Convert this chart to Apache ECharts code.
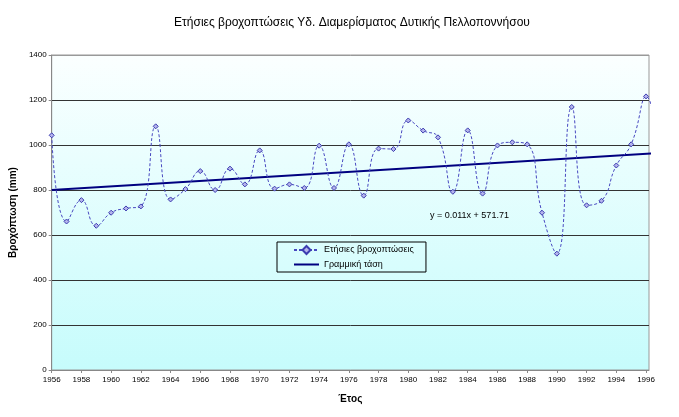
<!DOCTYPE html>
<html>
<head>
<meta charset="utf-8">
<script src="https://cdn.jsdelivr.net/npm/echarts@6/dist/echarts.min.js"></script>
<style>
  html, body { margin: 0; padding: 0; background: #fff; }
  #chart { width: 679px; height: 417px; }
</style>
</head>
<body>
<div id="chart"></div>
<script>
// Έτη και ετήσιες βροχοπτώσεις (mm), όπως διαβάζονται από το διάγραμμα
const years = [1956, 1957, 1958, 1959, 1960, 1961, 1962, 1963, 1964, 1965,
  1966, 1967, 1968, 1969, 1970, 1971, 1972, 1973, 1974, 1975,
  1976, 1977, 1978, 1979, 1980, 1981, 1982, 1983, 1984, 1985,
  1986, 1987, 1988, 1989, 1990, 1991, 1992, 1993, 1994, 1995,
  1996, 1997]
const rainfall = [1043, 660, 755, 641, 699, 718, 727, 1083, 758, 804,
  884, 800, 895, 825, 976, 806, 825, 809, 997, 809,
  1003, 775, 984, 982, 1109, 1064, 1034, 792, 1065, 784,
  998, 1012, 1003, 699, 517, 1169, 732, 752, 909, 1003,
  1216, 850]

// Γραμμική τάση: άκρα της ευθείας
const trendYears = [1956, 1997]
const trendValues = [800, 965]

const seriesNames = ['Ετήσιες βροχοπτώσεις', 'Γραμμική τάση']
const equationText = 'y = 0.011x + 571.71'

const font = '"Liberation Sans", Arial, sans-serif'

const chart = echarts.init(document.getElementById('chart'))

const option = {
  animation: false,
  textStyle: { fontFamily: font },
  title: {
    text: 'Ετήσιες βροχοπτώσεις Υδ. Διαμερίσματος Δυτικής Πελλοποννήσου',
    left: 347,
    textAlign: 'center',
    top: 12,
    textStyle: { fontFamily: font, fontSize: 12, fontWeight: 'normal', color: '#000' }
  },
  grid: {
    left: 51,
    right: 30,
    top: 55,
    bottom: 47,
    show: true,
    borderColor: '#999',
    borderWidth: 1,
    backgroundColor: {
      type: 'linear', x: 0, y: 0, x2: 0, y2: 1,
      colorStops: [
        { offset: 0, color: '#fbffff' },
        { offset: 1, color: '#c6fcfc' }
      ]
    }
  },
  legend: {
    orient: 'vertical',
    left: 277,
    top: 242,
    padding: [3, 12, 3, 16],
    itemGap: 5,
    itemWidth: 25,
    itemHeight: 10,
    borderColor: '#000',
    borderWidth: 1,
    textStyle: { fontFamily: font, fontSize: 9, color: '#000' },
    data: [
      { name: seriesNames[0] },
      { name: seriesNames[1], itemStyle: { opacity: 0 } }
    ]
  },
  xAxis: {
    type: 'value',
    min: 1956,
    max: 1996.2,
    interval: 2,
    name: 'Έτος',
    nameLocation: 'middle',
    nameGap: 24,
    nameTextStyle: { fontFamily: font, fontSize: 10, fontWeight: 'bold', color: '#000' },
    axisLine: { show: true, lineStyle: { color: '#888', width: 1 } },
    axisTick: { show: true, length: 3, lineStyle: { color: '#888' } },
    axisLabel: {
      fontSize: 8, color: '#000', margin: 6,
      showMaxLabel: false,
      formatter: v => (Math.abs(v - Math.round(v)) < 1e-6 ? String(Math.round(v)) : '')
    },
    splitLine: { show: false }
  },
  yAxis: {
    type: 'value',
    min: 0,
    max: 1400,
    interval: 200,
    name: 'Βροχόπτωση (mm)',
    nameLocation: 'middle',
    nameGap: 32,
    nameTextStyle: { fontFamily: font, fontSize: 10, fontWeight: 'bold', color: '#000' },
    axisLine: { show: true, lineStyle: { color: '#888', width: 1 } },
    axisTick: { show: true, length: 3, lineStyle: { color: '#888' } },
    axisLabel: { fontSize: 8, color: '#000', margin: 5, formatter: v => String(v) },
    splitLine: {
      show: true,
      lineStyle: {
        color: ['#888', '#333', '#333', '#333', '#333', '#333', '#333', '#999'],
        width: 1
      }
    }
  },
  series: [
    {
      name: seriesNames[0],
      type: 'line',
      data: years.map((y, i) => [y, rainfall[i]]),
      smooth: 0.5,
      clip: true,
      symbol: 'diamond',
      symbolSize: 5,
      lineStyle: { color: '#4848c0', width: 1, type: [3, 2] },
      itemStyle: { color: '#b4b4ec', borderColor: '#3c3cb0', borderWidth: 1 },
      z: 3
    },
    {
      name: seriesNames[1],
      type: 'line',
      data: trendYears.map((y, i) => [y, trendValues[i]]),
      clip: true,
      symbol: 'none',
      lineStyle: { color: '#000080', width: 2 },
      itemStyle: { color: '#000080' },
      z: 2
    }
  ],
  graphic: [
    {
      type: 'text',
      left: 430,
      top: 211,
      style: { text: equationText, fontFamily: font, fontSize: 9, fill: '#000' }
    }
  ]
}

chart.setOption(option)
</script>
</body>
</html>
